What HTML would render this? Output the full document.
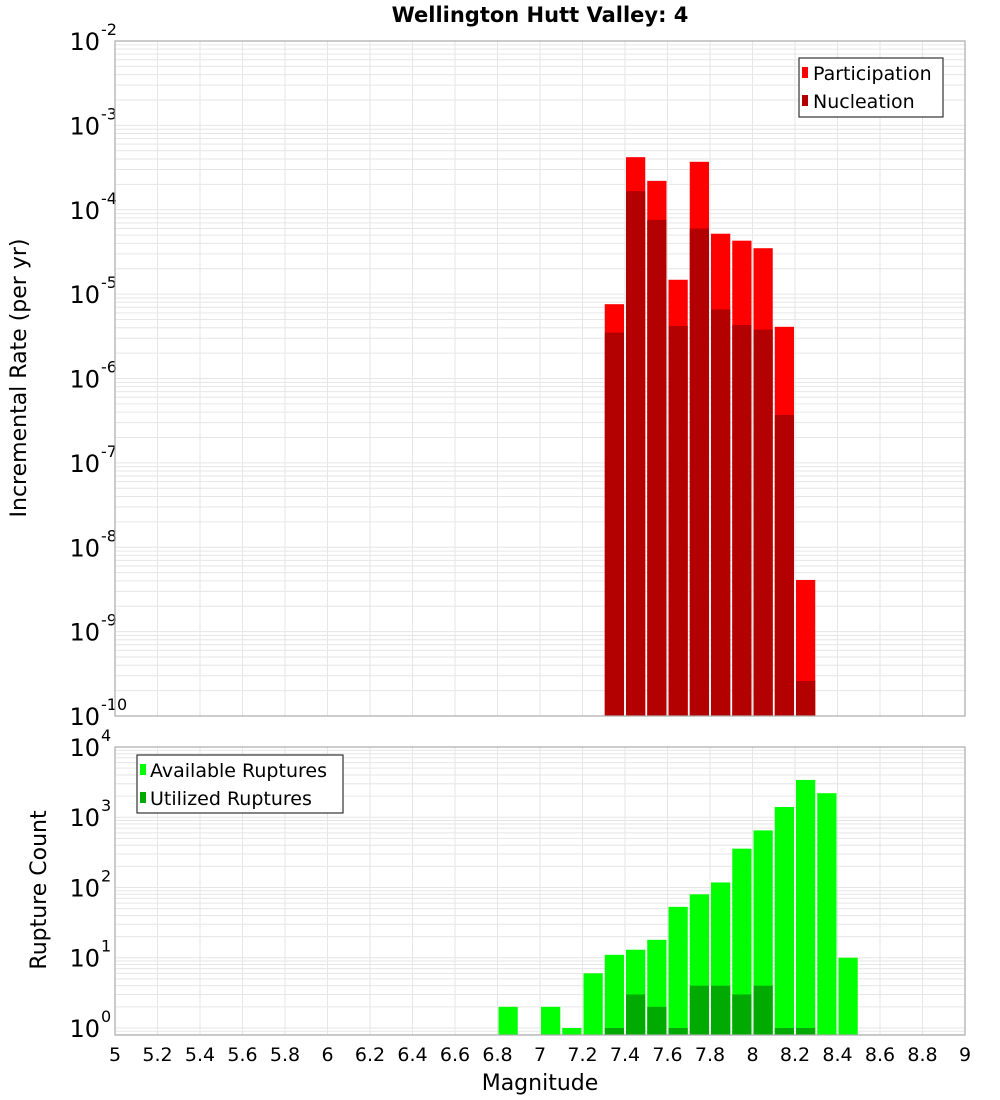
<!DOCTYPE html>
<html><head><meta charset="utf-8"><style>
body{margin:0;background:#fff;}
svg{display:block;font-family:"DejaVu Sans","Liberation Sans",sans-serif;}
</style></head><body>
<svg id="chart" width="1000" height="1100" viewBox="0 0 1000 1100" xmlns="http://www.w3.org/2000/svg">
<rect width="1000" height="1100" fill="#fff"/>
<text x="540" y="22" text-anchor="middle" font-size="21" font-weight="bold">Wellington Hutt Valley: 4</text>
<g id="top"></g>
<g id="bot"></g>
<text transform="translate(26,378) rotate(-90)" text-anchor="middle" font-size="22">Incremental Rate (per yr)</text>
<text transform="translate(46,890) rotate(-90)" text-anchor="middle" font-size="22">Rupture Count</text>
<text x="540" y="1090" text-anchor="middle" font-size="22">Magnitude</text>
</svg>
<script>
const rateBins=[7.3,7.4,7.5,7.6,7.7,7.8,7.9,8.0,8.1,8.2];
const participation=[7.6e-6,4.2e-4,2.2e-4,1.48e-5,3.7e-4,5.2e-5,4.3e-5,3.5e-5,4.1e-6,4.1e-9];
const nucleation=[3.5e-6,1.66e-4,7.6e-5,4.2e-6,6e-5,6.6e-6,4.3e-6,3.8e-6,3.7e-7,2.6e-10];
const countBins=[6.8,6.9,7.0,7.1,7.2,7.3,7.4,7.5,7.6,7.7,7.8,7.9,8.0,8.1,8.2,8.3,8.4];
const available=[2,0,2,1,6,11,13,18,53,80,118,357,650,1400,3400,2200,10];
const utilized=[0,0,0,0,0,1,3,2,1,4,4,3,4,1,1,0,0];
const xTicks=[5,5.2,5.4,5.6,5.8,6,6.2,6.4,6.6,6.8,7,7.2,7.4,7.6,7.8,8,8.2,8.4,8.6,8.8,9];

const NS="http://www.w3.org/2000/svg";
const X0=115,X1=965,XMIN=5,XMAX=9;
const xs=m=>X0+(m-XMIN)/(XMAX-XMIN)*(X1-X0);
function mk(tag,attrs,parent){const e=document.createElementNS(NS,tag);for(const k in attrs)e.setAttribute(k,attrs[k]);parent.appendChild(e);return e;}
function panel(g,top,bot,lmin,lmax,name){
  const ys=v=>bot-(Math.log10(v)-lmin)/(lmax-lmin)*(bot-top);
  // grid
  for(let d=Math.floor(lmin);d<=lmax;d++){
    for(let k=1;k<10;k++){
      const v=k*Math.pow(10,d),l=Math.log10(v);
      if(l<lmin||l>lmax)continue;
      const ln=mk('line',{x1:X0,x2:X1,y1:ys(v),y2:ys(v),stroke:'#e6e6e6','stroke-width':1},g);
      
      
    }
  }
  xTicks.forEach(t=>{
    const ln=mk('line',{x1:xs(t),x2:xs(t),y1:top,y2:bot,stroke:'#e6e6e6','stroke-width':1},g);
    
    
  });
  // y ticks
  for(let d=Math.ceil(lmin);d<=lmax;d++){
    const y=ys(Math.pow(10,d));
    const t=mk('text',{x:100,y:y+9,'text-anchor':'end','font-size':24},g);
    t.textContent='10';
    
    
    const s=mk('text',{x:101,y:y-6,'font-size':16},g);
    s.textContent=String(d);
    
    
  }
  return ys;
}
function bar(g,m,v,ys,bot,color,name){
  if(v<=0)return;
  const x=xs(m),w=xs(m+0.1)-x,y=ys(v);
  const r=mk('rect',{x:x+1,y:y,width:w-2,height:bot-y,fill:color},g);
  
  
}
// top panel
const gt=document.getElementById('top');
const T0=41,T1=716;
const yt=panel(gt,T0,T1,-10,-2,'top');
rateBins.forEach((m,i)=>bar(gt,m,participation[i],yt,T1,'#ff0000','participation-bar'));
rateBins.forEach((m,i)=>bar(gt,m,nucleation[i],yt,T1,'#b30000','nucleation-bar'));
mk('rect',{x:X0,y:T0,width:X1-X0,height:T1-T0,fill:'none',stroke:'#aaa','stroke-width':1.2,},gt);
// top legend
const lg=mk('g',{},gt);
mk('rect',{x:799,y:58,width:144,height:59,fill:'#fff',stroke:'#333','stroke-width':1.2},lg);
mk('rect',{x:802,y:67,width:6,height:11,fill:'#ff0000'},lg);
mk('rect',{x:802,y:95,width:6,height:11,fill:'#b30000'},lg);
const l1=mk('text',{x:813,y:80,'font-size':19},lg);l1.textContent='Participation';


const l2=mk('text',{x:813,y:108,'font-size':19},lg);l2.textContent='Nucleation';



// bottom panel
const gb=document.getElementById('bot');
const B0=747,B1=1035;
const yb=panel(gb,B0,B1,-0.1,4,'bottom');
countBins.forEach((m,i)=>bar(gb,m,available[i],yb,B1,'#00ff00','available-bar'));
countBins.forEach((m,i)=>bar(gb,m,utilized[i],yb,B1,'#00aa00','utilized-bar'));
mk('rect',{x:X0,y:B0,width:X1-X0,height:B1-B0,fill:'none',stroke:'#aaa','stroke-width':1.2,},gb);
const lb=mk('g',{},gb);
mk('rect',{x:137,y:755,width:206,height:58,fill:'#fff',stroke:'#333','stroke-width':1.2},lb);
mk('rect',{x:140,y:764,width:6,height:11,fill:'#00ff00'},lb);
mk('rect',{x:140,y:792,width:6,height:11,fill:'#00aa00'},lb);
const b1=mk('text',{x:150,y:777,'font-size':19},lb);b1.textContent='Available Ruptures';


const b2=mk('text',{x:150,y:805,'font-size':19},lb);b2.textContent='Utilized Ruptures';


// x tick labels
xTicks.forEach(t=>{
  const tx=mk('text',{x:xs(t),y:1061,'text-anchor':'middle','font-size':19},gb);
  tx.textContent=String(t);
  
  
});
</script>
</body></html>
